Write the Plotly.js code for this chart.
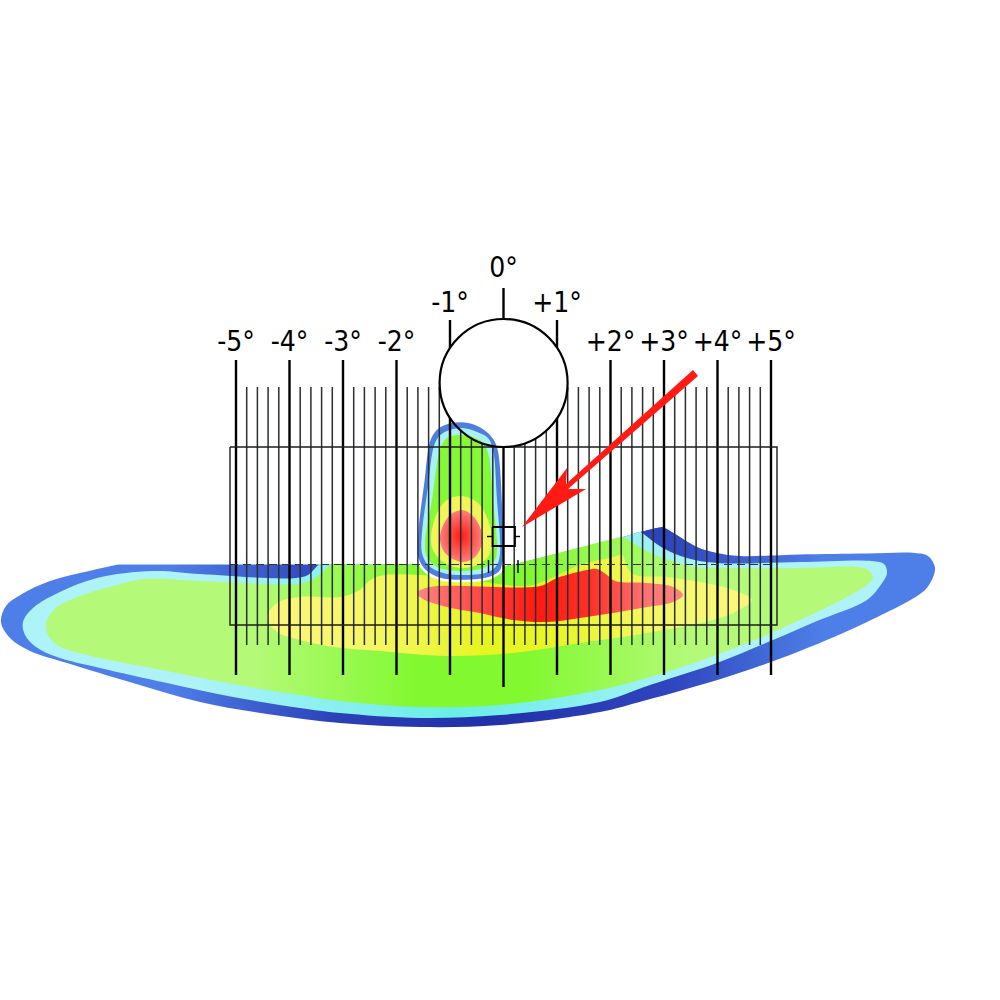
<!DOCTYPE html>
<html><head><meta charset="utf-8">
<script src="https://cdn.plot.ly/plotly-3.0.1.min.js"></script>
<style>html,body{margin:0;padding:0;background:#fff}</style></head>
<body><div id="chart" style="width:1000px;height:1000px"></div>
<script>
const tickLabels=['-5°','-4°','-3°','-2°','-1°','0°','+1°','+2°','+3°','+4°','+5°'];
const majorX=[236,289.5,343,396.5,450,503.5,557,610.5,664,717.5,771];
const majorTop=[360,360,360,360,320,288,320,360,360,360,360];
const majorBottom=[675,675,675,675,675,687,675,675,675,675,675];
const labelY=[344,344,344,344,305,270,305,344,344,344,344];
const minorX=[246.7,257.4,268.1,278.8,300.2,310.9,321.6,332.3,353.7,364.4,375.1,385.8,407.2,417.9,428.6,439.3,460.7,471.4,482.1,492.8,514.2,524.9,535.6,546.3,567.7,578.4,589.1,599.8,621.2,631.9,642.6,653.3,674.7,685.4,696.1,706.8,728.2,738.9,749.6,760.3];

const blueX=[119,121,220,320,322,420,504,506,570,621,638,640,662,664,677,697,717,740,800,867,915,928,935,929,920,867,800,733,683,643,600,500,420,340,267,200,133,67,30,10,1,6,22,50,87];
const blueY=[564.5,564.5,564.5,564.5,564.5,564.5,566,566,550.5,537.5,532.5,532,527,527.5,535,547,553,556,554.5,553.5,553,556,568,585,594,622,651,675,690,701,712,725,727,723,714,702,683,663,651,638,622,606,594,581,571.5];
const cyanX=[153,200,267,296,308,319,321,420,504,506,570,621,638,640,642,663,687,717,800,872,884,887,880,867,817,773,717,650,600,500,420,340,300,233,167,100,57,36,25,23,33,60,97];
const cyanY=[571,574,578,578,575,564.5,564.5,564.5,566,566,550.5,537.5,532.5,532,533,548,558,563,562,561,564,573,586,600,621,640,663,685,702,715,718,713,708,697,683,668,657,647,635,622,608,592,578];
const greenX=[143,200,267,298,314,331,333,420,504,506,570,621,623,643,663,690,733,800,857,868,873,868,847,800,750,700,650,600,500,420,340,300,233,167,83,57,47,47,57,83,117];
const greenY=[579,581,584,584,579,564.5,564.5,564.5,566,566,550,537,537,549,558,566,568,568,567,570,577,584,597,620,642,661,677,690,705,707,701,695,684,671,654,645,633,620,607,595,585];
const yellowX=[300,340,358,376,440,527,547,580,613,622,628,635,667,700,733,752,735,713,647,580,513,447,380,333,300,277,267,277];
const yellowY=[597,597,591,577,576,586,580,565,557,555,569,575,577,582,590,600,612,620,633,643,653,656,651,647,640,632,618,603];
const redX=[417,430,540,557,587,597,607,615,647,673,683,673,647,613,580,547,513,480,447,423];
const redY=[593,587,586,578,570,569,575,581,583,587,595,602,607,613,618,622,620,613,607,599];

const bubbleBlueX=[462,440,430,423,417,417,425,440,467,490,501,504,503,499,494,480];
const bubbleBlueY=[421,426,438,483,533,557,571,579,581,578,571,557,500,450,438,426];
const bubbleCyanX=[462,443,435,428,422,422,428,443,467,488,497,500,497,493,488,477];
const bubbleCyanY=[428,433,443,487,533,553,565,573,575,572,565,553,500,450,438,432];
const bubbleGreenX=[462,447,440,432,425,427,437,460,483,495,497,493,488,482,473];
const bubbleGreenY=[435,438,450,500,543,557,567,571,568,560,547,500,453,442,437];
const bubbleYellowX=[462,447,437,431,433,443,460,477,488,492,488,478];
const bubbleYellowY=[496,500,513,537,550,562,568,565,557,540,520,503];
const bubbleRedX=[462,450,442,440,445,462,475,482,480,472];
const bubbleRedY=[510,515,528,540,553,562,557,543,527,515];

const arrowX=[693,698,568,586,522,567,566];
const arrowY=[370,376,489,489,527,468,484];

const rectX=[230,777,777,230,230];
const rectY=[447,447,625,625,447];
const dashX=[230,777];
const dashY=[564.5,564.5];
const squareX=[492.5,515,515,492.5,492.5];
const squareY=[527,527,546,546,527];
const sideTickX=[487,492.5,null,515,520,null,488.5,488.5,null,518,518];
const sideTickY=[536.5,536.5,null,536.5,536.5,null,560,573,null,560,573];
const discX=[439.6,567.6];
const discY=[319,447];

const cx=(discX[0]+discX[1])/2, cy=(discY[0]+discY[1])/2, r=(discX[1]-discX[0])/2;
function segs(xs,tops,bots){
  const x=[],y=[];
  xs.forEach((v,i)=>{
    const d=Math.abs(v-cx);
    if(d<r){
      const h=Math.sqrt(r*r-d*d);
      const up=cy-h, low=cy+h;
      if(tops[i]<up){x.push(v,v,null);y.push(tops[i],up,null);}
      x.push(v,v,null);y.push(low,bots[i],null);
    } else {x.push(v,v,null);y.push(tops[i],bots[i],null);}
  });
  return {x,y};
}
function blob(x,y,fill,extra){
  const t={x:x.concat([x[0]]),y:y.concat([y[0]]),mode:'lines',fill:'toself',hoverinfo:'skip',
    line:Object.assign({width:0,shape:'spline',smoothing:1},extra||{})};
  if(Array.isArray(fill)) t.fillgradient={type:'horizontal',colorscale:fill};
  else t.fillcolor=fill;
  return t;
}
const blueScale=[[0,'#4E7FE8'],[0.18,'#4E7FE8'],[0.36,'#2C40B8'],[0.52,'#2130A8'],[0.72,'#2F46BE'],[0.88,'#4E7FE8'],[1,'#4E7FE8']];
const cyanScale=[[0,'#AEF3F8'],[0.2,'#AEF3F8'],[0.5,'#68EDE8'],[0.8,'#AEF3F8'],[1,'#AEF3F8']];
const greenScale=[[0,'#B4FA78'],[0.25,'#B4FA78'],[0.45,'#82F830'],[0.58,'#82F830'],[0.78,'#B4FA78'],[1,'#B4FA78']];
const yellowScale=[[0,'#FBF67C'],[0.2,'#F6F66A'],[0.45,'#E6F520'],[0.6,'#E8F528'],[0.85,'#F6F870'],[1,'#FBF67C']];
const redScale=[[0,'#FF8484'],[0.2,'#FF5050'],[0.45,'#FF1A10'],[0.65,'#FF3028'],[0.85,'#FF7070'],[1,'#FF8484']];

const major=segs(majorX,majorTop,majorBottom);
const minor=segs(minorX,minorX.map(()=>387),minorX.map(()=>645));

const data=[
  blob(blueX,blueY,blueScale),
  blob(cyanX,cyanY,cyanScale),
  blob(greenX,greenY,greenScale),
  blob(yellowX,yellowY,yellowScale),
  blob(redX,redY,redScale),
  blob(bubbleBlueX,bubbleBlueY,'#4E7FE0',{width:2.5,color:'#ffffff'}),
  blob(bubbleCyanX,bubbleCyanY,'#A8F2F6'),
  blob(bubbleGreenX,bubbleGreenY,'#86F835'),
  blob(bubbleYellowX,bubbleYellowY,'#F2F55A'),
  Object.assign(blob(bubbleRedX,bubbleRedY,'#FF8484'),{fillcolor:undefined,fillgradient:{type:'radial',colorscale:[[0,'#FF1A10'],[1,'#FF7E7E']]}}),
  {x:minor.x,y:minor.y,mode:'lines',line:{color:'#2A2E30',width:1.5},hoverinfo:'skip'},
  {x:major.x,y:major.y,mode:'lines',line:{color:'#000000',width:2.4},hoverinfo:'skip'},
  {x:rectX,y:rectY,mode:'lines',line:{color:'#1C1C1C',width:1.4},hoverinfo:'skip'},
  {x:dashX,y:dashY,mode:'lines',line:{color:'#333333',width:1.1,dash:'8px,5px'},hoverinfo:'skip'},
  {x:squareX,y:squareY,mode:'lines',line:{color:'#000000',width:1.8},hoverinfo:'skip'},
  {x:sideTickX,y:sideTickY,mode:'lines',line:{color:'#000000',width:1.4},hoverinfo:'skip'},
  {x:arrowX.concat([arrowX[0]]),y:arrowY.concat([arrowY[0]]),mode:'lines',fill:'toself',fillcolor:'#FF1A14',line:{width:0},hoverinfo:'skip'},
  {x:majorX,y:labelY,mode:'text',text:tickLabels,textposition:'middle center',
   textfont:{family:'"DejaVu Sans Condensed","Roboto",sans-serif',size:28,color:'#000000'},hoverinfo:'skip'}
];
const layout={
  width:1000,height:1000,margin:{l:0,r:0,t:0,b:0},showlegend:false,
  paper_bgcolor:'#ffffff',plot_bgcolor:'#ffffff',
  xaxis:{range:[0,1000],visible:false,fixedrange:true},
  yaxis:{range:[1000,0],visible:false,fixedrange:true},
  shapes:[{type:'circle',xref:'x',yref:'y',x0:discX[0],x1:discX[1],y0:discY[0],y1:discY[1],fillcolor:'rgba(0,0,0,0)',line:{color:'#000000',width:2.2}}]
};
Plotly.newPlot('chart',data,layout,{displayModeBar:false,staticPlot:true});
</script></body></html>
